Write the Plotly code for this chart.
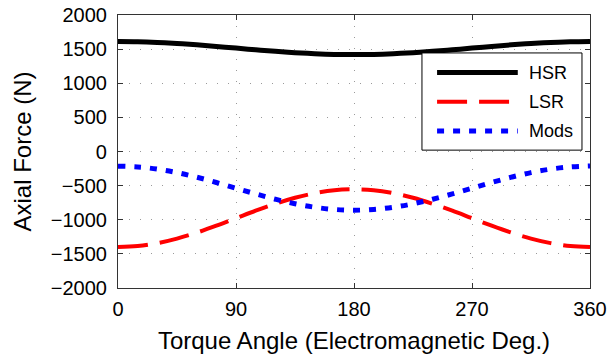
import plotly.graph_objects as go

# Torque angle (electromagnetic degrees)
angle = [0, 15, 30, 45, 60, 75, 90, 105, 120, 135, 150, 165, 180,
         195, 210, 225, 240, 255, 270, 285, 300, 315, 330, 345, 360]

# Axial force (N) on each part
hsr = [1610, 1607, 1597, 1582, 1563, 1540, 1515, 1490, 1468, 1448, 1433, 1423, 1420,
       1423, 1433, 1448, 1468, 1490, 1515, 1540, 1563, 1582, 1597, 1607, 1612]
lsr = [-1400, -1386, -1343, -1276, -1189, -1087, -977, -867, -766, -678, -611, -568, -554,
       -568, -611, -678, -766, -867, -977, -1087, -1189, -1276, -1343, -1386, -1400]
mods = [-215, -226, -258, -309, -376, -454, -538, -621, -699, -766, -817, -849, -860,
        -849, -817, -766, -699, -621, -538, -454, -376, -309, -258, -226, -212]

series_names = ["HSR", "LSR", "Mods"]
series_colors = ["#000000", "#ff0000", "#0000ff"]
series_dash = ["solid", "30px,12px", "7px,9px"]
series_width = [5, 4, 5]

x_ticks = [0, 90, 180, 270, 360]
y_ticks = list(range(-2000, 2001, 500))

FONT = "Liberation Sans, Arial, Helvetica, sans-serif"

fig = go.Figure()
for name, ys, col, dash, w in zip(series_names, [hsr, lsr, mods],
                                   series_colors, series_dash, series_width):
    fig.add_trace(go.Scatter(x=angle, y=ys, name=name, mode="lines",
                             line=dict(color=col, dash=dash, width=w, shape="spline"),
                             showlegend=False))

axis_common = dict(
    showline=True, linecolor="#333333", linewidth=1.2, mirror="ticks",
    ticks="inside", ticklen=5, tickcolor="#333333", tickwidth=1.2,
    showgrid=True, gridcolor="#9a9a9a", gridwidth=1, griddash="1px,10px",
    zeroline=False, automargin=False,
    tickfont=dict(family=FONT, size=20, color="#000000"),
)

fig.update_xaxes(
    range=[0, 360], tickvals=x_ticks, ticktext=[str(v) for v in x_ticks],
    ticklabelstandoff=3,
    title=dict(text="Torque Angle (Electromagnetic Deg.)",
               font=dict(family=FONT, size=24, color="#000000"), standoff=16),
    **axis_common,
)
fig.update_yaxes(
    range=[-2000, 2000], tickvals=y_ticks,
    ticktext=[str(v).replace("-", "\u2212") for v in y_ticks],
    ticklabelstandoff=6,
    title=dict(text="Axial Force (N)",
               font=dict(family=FONT, size=24, color="#000000"), standoff=12),
    **axis_common,
)

# Legend box drawn in paper coordinates
box = dict(x0=0.644, x1=0.983, y0=0.505, y1=0.861)
fig.add_shape(type="rect", xref="paper", yref="paper", layer="above",
              line=dict(color="#000000", width=1), fillcolor="#ffffff", **box)
entry_y = [0.789, 0.682, 0.575]
for name, col, dash, w, ey in zip(series_names, series_colors, series_dash,
                                  series_width, entry_y):
    fig.add_shape(type="line", xref="paper", yref="paper", layer="above",
                  x0=0.676, x1=0.847, y0=ey, y1=ey,
                  line=dict(color=col, dash=dash, width=w))
    fig.add_annotation(x=0.867, y=ey, xref="paper", yref="paper", text=name,
                       showarrow=False, xanchor="left", yanchor="middle",
                       font=dict(family=FONT, size=18, color="#000000"))

fig.update_layout(
    width=616, height=354,
    margin=dict(l=118, r=26, t=15, b=66),
    paper_bgcolor="#ffffff", plot_bgcolor="#ffffff",
    font=dict(family=FONT, color="#000000"),
)

fig.write_html("out.html")
